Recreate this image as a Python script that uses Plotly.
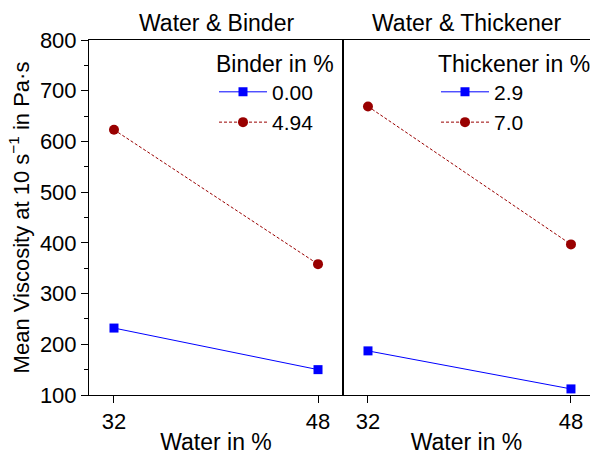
import plotly.graph_objects as go

water = [32, 48]
binder_labels = ["0.00", "4.94"]
binder_vals = [[232, 150], [623, 358]]
thick_labels = ["2.9", "7.0"]
thick_vals = [[187, 112], [669, 397]]
y_ticks = [100, 200, 300, 400, 500, 600, 700, 800]

FONT = "Liberation Sans, Arial, sans-serif"
FS = 22
FT = 23
styles = [
    dict(color="#0000ff", dash="solid", symbol="square", msize=9),
    dict(color="#990000", dash="3px,2px", symbol="circle", msize=10),
]

fig = go.Figure()
for i, (lab, vals) in enumerate(zip(binder_labels, binder_vals)):
    s = styles[i]
    fig.add_trace(go.Scatter(
        x=water, y=vals, name=lab, mode="lines+markers",
        line=dict(color=s["color"], width=1, dash=s["dash"]),
        marker=dict(symbol=s["symbol"], size=s["msize"], color=s["color"]),
        xaxis="x", yaxis="y", legend="legend"))
for i, (lab, vals) in enumerate(zip(thick_labels, thick_vals)):
    s = styles[i]
    fig.add_trace(go.Scatter(
        x=water, y=vals, name=lab, mode="lines+markers",
        line=dict(color=s["color"], width=1, dash=s["dash"]),
        marker=dict(symbol=s["symbol"], size=s["msize"], color=s["color"]),
        xaxis="x2", yaxis="y2", legend="legend2"))

W, H = 590, 455
ml, mr, mt, mb = 89, 0, 40, 60
pw = W - ml - mr
split = (343 - ml) / pw

axcommon = dict(showgrid=False, zeroline=False, showline=True, linecolor="black",
                linewidth=1, ticks="outside", ticklen=7, tickcolor="black",
                tickfont=dict(family=FONT, size=FS, color="black"))

fig.update_layout(
    width=W, height=H,
    margin=dict(l=ml, r=mr, t=mt, b=mb, autoexpand=False),
    paper_bgcolor="white", plot_bgcolor="white",
    font=dict(family=FONT, size=FS, color="black"),
    xaxis=dict(domain=[0, split], range=[30.04, 49.96], tickvals=water,
               mirror=True, anchor="y",
               title=dict(text="Water in %", font=dict(size=FT), standoff=8),
               **axcommon),
    yaxis=dict(domain=[0, 1], range=[100, 800], tickvals=y_ticks, mirror=True,
               anchor="x",
               minor=dict(ticks="outside", dtick=50, ticklen=4, tickcolor="black"),
               title=dict(text="Mean Viscosity at 10 s<sup>\u22121</sup> in Pa\u00b7s",
                          font=dict(size=FS), standoff=4),
               **axcommon),
    xaxis2=dict(domain=[split, 1], range=[30.03, 49.5], tickvals=water,
                mirror=True, anchor="y2",
                title=dict(text="Water in %", font=dict(size=FT), standoff=8),
                **axcommon),
    yaxis2=dict(domain=[0, 1], range=[100, 800], anchor="x2",
                showgrid=False, zeroline=False, showline=True, linecolor="black",
                linewidth=1, showticklabels=False, ticks=""),
    legend=dict(x=(214 - ml) / pw, y=0.995, xanchor="left", yanchor="top",
                bgcolor="rgba(0,0,0,0)", itemwidth=48,
                title=dict(text="Binder in %", font=dict(size=FT)),
                font=dict(size=21), tracegroupgap=0),
    legend2=dict(x=(436 - ml) / pw, y=0.995, xanchor="left", yanchor="top",
                 bgcolor="rgba(0,0,0,0)", itemwidth=48,
                 title=dict(text="Thickener in %", font=dict(size=FT)),
                 font=dict(size=21), tracegroupgap=0),
    annotations=[
        dict(text="Water & Binder", x=split / 2, y=1, xref="paper", yref="paper",
             xanchor="center", yanchor="bottom", yshift=2, showarrow=False,
             font=dict(size=FT)),
        dict(text="Water & Thickener", x=(split + 1) / 2, y=1, xref="paper",
             yref="paper", xanchor="center", yanchor="bottom", yshift=2,
             showarrow=False, font=dict(size=FT)),
    ],
)

fig.write_html("out.html")
